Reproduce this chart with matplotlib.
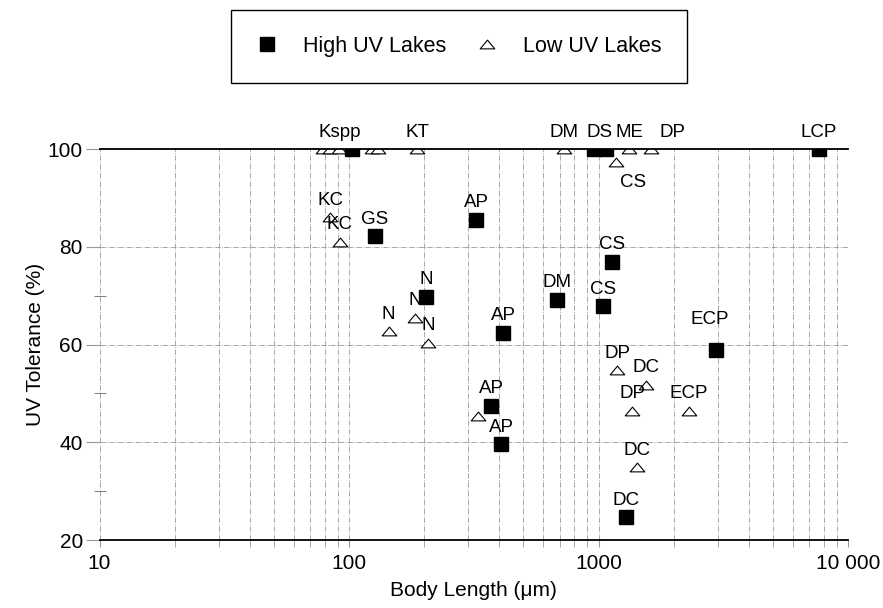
import matplotlib.pyplot as plt
from matplotlib.path import Path
from matplotlib.ticker import FixedLocator, FixedFormatter, NullFormatter

plt.rcParams['font.family'] = ['Liberation Sans', 'DejaVu Sans']

# High UV lakes (filled squares)
hi_len = [103, 127, 324, 204, 415, 372, 408, 684, 1046, 1137, 2945, 1294, 960, 1075, 7620]
hi_tol = [100, 82.2, 85.5, 69.8, 62.4, 47.5, 39.6, 69.2, 67.8, 76.9, 58.8, 24.7, 100, 100, 100]
hi_lab = ['Kspp', 'GS', 'AP', 'N', 'AP', 'AP', 'AP', 'DM', 'CS', 'CS', 'ECP', 'DC', 'DS', '', 'LCP']

# Low UV lakes (open triangles)
lo_len = [79, 84, 91, 124, 131, 188, 730, 1330, 1630, 1180, 84, 92, 144, 184, 208,
          330, 1191, 1556, 1367, 2296, 1432]
lo_tol = [100, 100, 100, 100, 100, 100, 100, 100, 100, 97.3, 86.1, 81.0, 62.7, 65.5, 60.4,
          45.3, 54.7, 51.8, 46.5, 46.5, 34.9]
lo_lab = ['', '', '', '', '', 'KT', 'DM', 'ME', 'DP', 'CS', 'KC', 'KC', 'N', 'N', 'N',
          '', 'DP', 'DC', 'DP', 'ECP', 'DC']

# label offsets in pixels where not just above the marker
hi_off = {0: (-12, 17), 12: (5, 17), 10: (-6, 31)}
lo_off = {8: (21, 17), 9: (17, -20)}

tri = Path([(-1, -0.6), (1, -0.6), (0, 0.6), (-1, -0.6)],
           [Path.MOVETO, Path.LINETO, Path.LINETO, Path.CLOSEPOLY])

fig = plt.figure(figsize=(8.83, 6.08), dpi=100)
ax = fig.add_axes([0.1127, 0.1118, 0.8477, 0.643])

ax.plot(lo_len, lo_tol, linestyle='none', marker=tri, markersize=10.5,
        markerfacecolor='white', markeredgecolor='black', markeredgewidth=0.8,
        label='Low UV Lakes', zorder=3)
ax.plot(hi_len, hi_tol, linestyle='none', marker='s', markersize=10.5,
        color='black', label='High UV Lakes', zorder=4)

for i, t in enumerate(hi_lab):
    if t:
        ax.annotate(t, (hi_len[i], hi_tol[i]), xytext=hi_off.get(i, (0, 17)),
                    textcoords='offset pixels', ha='center', va='center', fontsize=13.5)
for i, t in enumerate(lo_lab):
    if t:
        ax.annotate(t, (lo_len[i], lo_tol[i]), xytext=lo_off.get(i, (0, 17)),
                    textcoords='offset pixels', ha='center', va='center', fontsize=13.5)

ax.set_xscale('log')
ax.set_xlim(10, 10000)
ax.set_ylim(20, 100)
ax.xaxis.set_major_locator(FixedLocator([10, 100, 1000, 10000]))
ax.xaxis.set_major_formatter(FixedFormatter(['10', '100', '1000', '10 000']))
ax.xaxis.set_minor_formatter(NullFormatter())
ax.set_yticks([20, 40, 60, 80, 100])
ax.set_yticks([30, 50, 70], minor=True)

ax.grid(True, which='both', axis='x', linestyle='-.', color='#999999', linewidth=0.6)
ax.grid(True, which='major', axis='y', linestyle='-.', color='#999999', linewidth=0.6)
ax.set_axisbelow(True)

for s in ['left', 'right']:
    ax.spines[s].set_visible(False)
for s in ['top', 'bottom']:
    ax.spines[s].set_linewidth(1.3)
    ax.spines[s].set_zorder(5)

ax.tick_params(axis='x', which='both', length=5, color='#999999', labelsize=15, pad=5)
ax.tick_params(axis='y', which='major', length=10, color='#999999', labelsize=15, pad=2)
ax.tick_params(axis='y', which='minor', length=8, direction='inout', color='#666666')

ax.set_xlabel('Body Length (\u03bcm)', fontsize=15, labelpad=6)
ax.set_ylabel('UV Tolerance (%)', fontsize=15, labelpad=2)

h, l = ax.get_legend_handles_labels()
leg = fig.legend(h[::-1], l[::-1], loc='center', bbox_to_anchor=(0.5198, 0.9235), ncol=2,
                 fontsize=15.5, fancybox=False, framealpha=1, edgecolor='black',
                 handletextpad=1.17, columnspacing=1.4, borderpad=1.19, handlelength=1.0)
leg.get_frame().set_linewidth(1.0)

fig.savefig('out.png', dpi=100)
